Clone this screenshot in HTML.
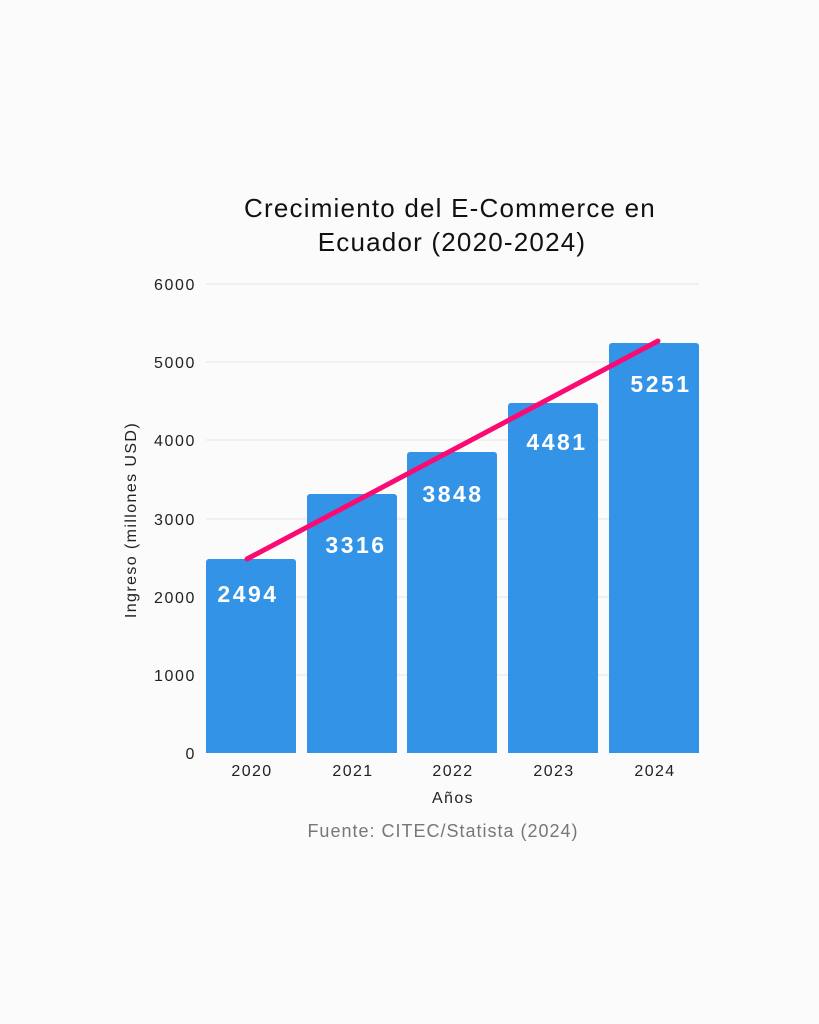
<!DOCTYPE html>
<html><head><meta charset="utf-8"><style>
html,body{margin:0;padding:0;background:#fbfbfb;}
svg{display:block;}
text{font-family:"Liberation Sans",sans-serif;}
</style></head><body>
<svg width="819" height="1024" viewBox="0 0 819 1024" xmlns="http://www.w3.org/2000/svg">
<rect width="819" height="1024" fill="#fbfbfb"/>
<text x="450" y="217" font-size="26" letter-spacing="1.2" text-anchor="middle" fill="#111">Crecimiento del E-Commerce en</text>
<text x="452" y="251" font-size="26" letter-spacing="1.2" text-anchor="middle" fill="#111">Ecuador (2020-2024)</text>
<g stroke="#e4e4e4" stroke-width="1">
<line x1="206" y1="284" x2="699" y2="284"/>
<line x1="206" y1="362" x2="699" y2="362"/>
<line x1="206" y1="440" x2="699" y2="440"/>
<line x1="206" y1="519" x2="699" y2="519"/>
<line x1="206" y1="597" x2="699" y2="597"/>
<line x1="206" y1="675" x2="699" y2="675"/>
</g>
<g font-size="16" letter-spacing="1.6" fill="#222" text-anchor="end">
<text x="196" y="290">6000</text>
<text x="196" y="368">5000</text>
<text x="196" y="446">4000</text>
<text x="196" y="525">3000</text>
<text x="196" y="603">2000</text>
<text x="196" y="681">1000</text>
<text x="196" y="759">0</text>
</g>
<text transform="translate(136,520) rotate(-90)" font-size="16" letter-spacing="1.4" fill="#222" text-anchor="middle">Ingreso (millones USD)</text>
<g fill="#3393e6">
<path d="M206,753V562a3,3 0 0 1 3,-3H293a3,3 0 0 1 3,3V753Z"/>
<path d="M307,753V497a3,3 0 0 1 3,-3H394a3,3 0 0 1 3,3V753Z"/>
<path d="M407,753V455a3,3 0 0 1 3,-3H494a3,3 0 0 1 3,3V753Z"/>
<path d="M508,753V406a3,3 0 0 1 3,-3H595a3,3 0 0 1 3,3V753Z"/>
<path d="M609,753V346a3,3 0 0 1 3,-3H696a3,3 0 0 1 3,3V753Z"/>
</g>
<g font-size="23" font-weight="bold" letter-spacing="2.5" fill="#fff" text-anchor="middle">
<text x="248" y="602">2494</text>
<text x="356" y="553">3316</text>
<text x="453" y="502">3848</text>
<text x="557" y="450">4481</text>
<text x="661" y="392">5251</text>
</g>
<line x1="247" y1="559" x2="658" y2="341" stroke="#fb0a74" stroke-width="5" stroke-linecap="round"/>
<g font-size="16" letter-spacing="1.4" fill="#222" text-anchor="middle">
<text x="252" y="776">2020</text>
<text x="353" y="776">2021</text>
<text x="453" y="776">2022</text>
<text x="554" y="776">2023</text>
<text x="655" y="776">2024</text>
<text x="453" y="803">Años</text>
</g>
<text x="443" y="837" font-size="18" letter-spacing="1" fill="#777" text-anchor="middle">Fuente: CITEC/Statista (2024)</text>
</svg>
</body></html>
